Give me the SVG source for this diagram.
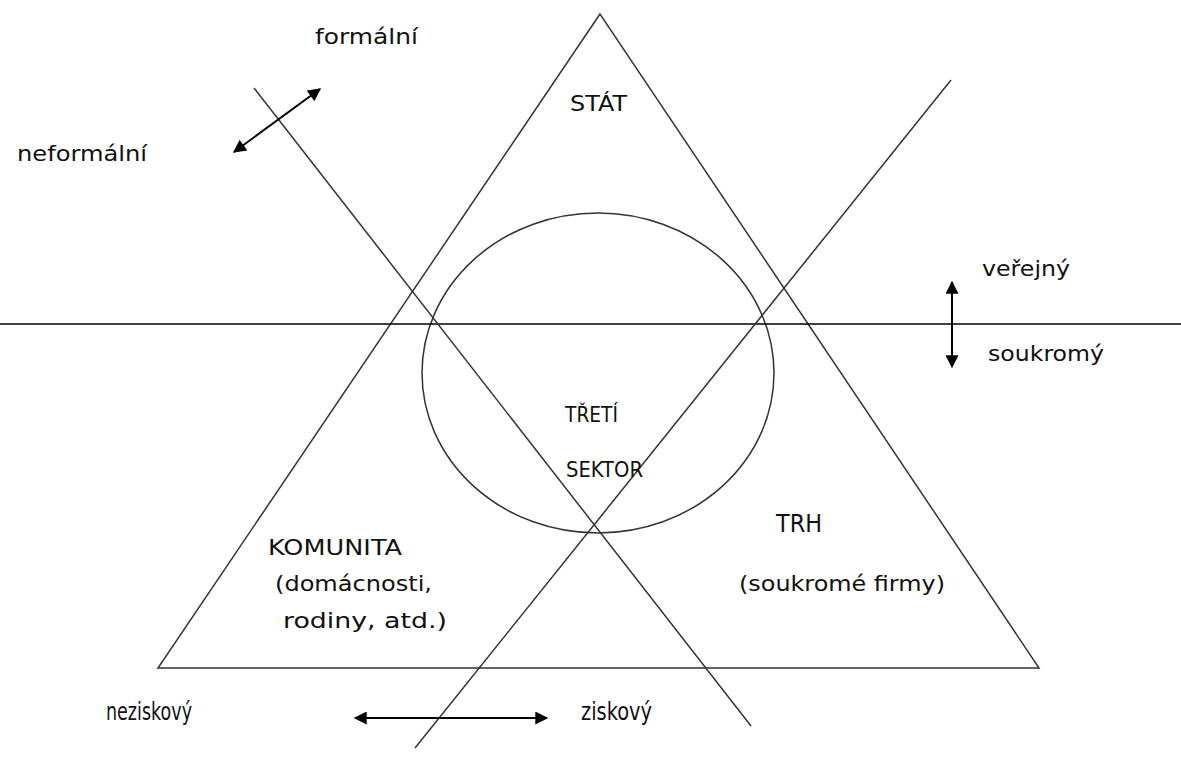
<svg xmlns="http://www.w3.org/2000/svg" width="1181" height="759" viewBox="0 0 1181 759">
<defs>
<marker id="ah" viewBox="0 0 10 10" refX="9" refY="5" markerWidth="14" markerHeight="13" markerUnits="userSpaceOnUse" orient="auto-start-reverse">
<path d="M0,0 L10,5 L0,10 z" fill="#000"/>
</marker>
<style>
.ln{stroke:#333;stroke-width:1.5;fill:none}
.ar{stroke:#000;stroke-width:2;fill:none}
text{font-family:"DejaVu Sans","Liberation Sans",sans-serif;font-size:21px;fill:#111}
.cap{font-size:22px}
.big{font-size:24px}
</style>
</defs>
<rect width="1181" height="759" fill="#fff"/>
<g id="shapes">
<polygon id="triangle" class="ln" points="600,14 158,668 1039,668"/>
<ellipse id="circle" class="ln" cx="598" cy="373" rx="176" ry="160"/>
<line id="hline" x1="0" y1="324" x2="1181" y2="324" style="stroke:#000;stroke-width:1.5"/>
<line id="line1" class="ln" x1="254" y1="88" x2="751" y2="726"/>
<line id="line2" class="ln" x1="415" y1="748" x2="951" y2="80"/>
</g>
<g id="connectors">
<line class="ar" x1="234" y1="152" x2="320" y2="89" marker-start="url(#ah)" marker-end="url(#ah)"/>
<line class="ar" x1="952" y1="282" x2="952" y2="367" marker-start="url(#ah)" marker-end="url(#ah)"/>
<line class="ar" x1="355" y1="718" x2="547" y2="718" marker-start="url(#ah)" marker-end="url(#ah)"/>
</g>
<g id="labels">
<text x="315" y="44" textLength="103" lengthAdjust="spacingAndGlyphs">formální</text>
<text x="17" y="161" textLength="130" lengthAdjust="spacingAndGlyphs">neformální</text>
<text x="570" y="111" textLength="57" lengthAdjust="spacingAndGlyphs" class="cap">STÁT</text>
<text x="982" y="276" textLength="88" lengthAdjust="spacingAndGlyphs">veřejný</text>
<text x="988" y="361" textLength="116" lengthAdjust="spacingAndGlyphs">soukromý</text>
<text x="565" y="422" textLength="53" lengthAdjust="spacingAndGlyphs" class="cap">TŘETÍ</text>
<text x="566" y="477" textLength="77" lengthAdjust="spacingAndGlyphs" class="cap">SEKTOR</text>
<text x="268" y="555" textLength="134" lengthAdjust="spacingAndGlyphs" class="cap">KOMUNITA</text>
<text x="275" y="591" textLength="157" lengthAdjust="spacingAndGlyphs">(domácnosti,</text>
<text x="283" y="628" textLength="164" lengthAdjust="spacingAndGlyphs">rodiny, atd.)</text>
<text x="776" y="532" textLength="46" lengthAdjust="spacingAndGlyphs" class="big">TRH</text>
<text x="739" y="591" textLength="206" lengthAdjust="spacingAndGlyphs">(soukromé firmy)</text>
<text x="106" y="720" textLength="86" lengthAdjust="spacingAndGlyphs" class="big">neziskový</text>
<text x="581" y="720" textLength="71" lengthAdjust="spacingAndGlyphs" class="big">ziskový</text>
</g>
</svg>
